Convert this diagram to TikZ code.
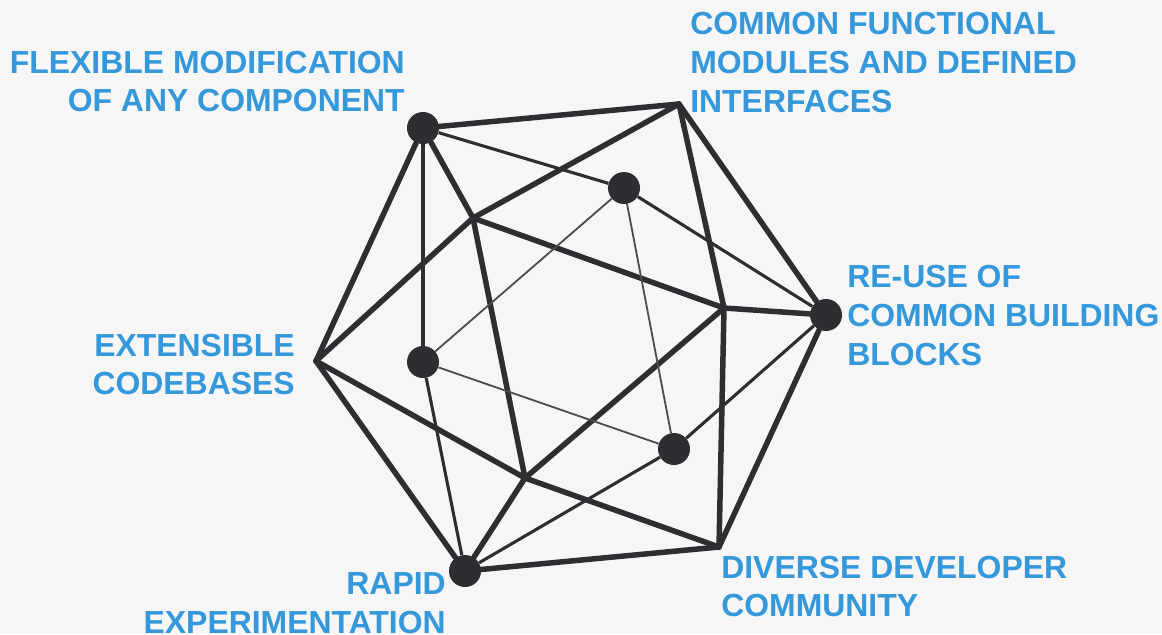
\documentclass[tikz,border=0pt]{standalone}
\usepackage{fontspec}
\setmainfont{Liberation Sans}
\usepackage{tikz}

\definecolor{bgcol}{HTML}{F6F6F6}
\definecolor{hubcol}{HTML}{2D2E32}
\definecolor{labelcol}{HTML}{3498DB}

\tikzset{
	hub/.style={circle,fill=hubcol,inner sep=0pt,minimum size=0.8cm},
	featurelabel/.style={text=labelcol,font=\fontsize{22.7}{27.5}\selectfont\bfseries,inner sep=0pt},
	heavy/.style={draw=hubcol,line width=3.9pt,line cap=round},
	medium/.style={draw=hubcol,line width=2.2pt},
	light/.style={draw=hubcol!85!white,line width=1.3pt}
}

\begin{document}
\begin{tikzpicture}[x=0.025cm,y=-0.025cm]
	\useasboundingbox[fill=bgcol] (0,0) rectangle (1162,634);

	\coordinate (top) at (679,104);
	\coordinate (left) at (316,361);
	\coordinate (bottomright) at (719,547);
	\coordinate (innerleft) at (473,218);
	\coordinate (innerright) at (724,308);
	\coordinate (innerbottom) at (525,478);

	\begin{scope}[every node/.style={hub}]
		\node (flexible) at (423,128) {};
		\node (reuse) at (826,315) {};
		\node (rapid) at (465,571) {};
		\node (backupper) at (624,188) {};
		\node (backleft) at (423,362) {};
		\node (backlower) at (674,449) {};
	\end{scope}

	\begin{scope}[every edge/.style={heavy}]
		\path [-] (flexible) edge (top);
		\path [-] (top) edge (reuse);
		\path [-] (reuse) edge (bottomright);
		\path [-] (bottomright) edge (rapid);
		\path [-] (rapid) edge (left);
		\path [-] (left) edge (flexible);
		\path [-] (innerleft) edge (flexible);
		\path [-] (innerleft) edge (top);
		\path [-] (innerleft) edge (left);
		\path [-] (innerleft) edge (innerright);
		\path [-] (innerleft) edge (innerbottom);
		\path [-] (innerright) edge (top);
		\path [-] (innerright) edge (reuse);
		\path [-] (innerright) edge (bottomright);
		\path [-] (innerright) edge (innerbottom);
		\path [-] (innerbottom) edge (left);
		\path [-] (innerbottom) edge (bottomright);
		\path [-] (innerbottom) edge (rapid);
	\end{scope}

	\begin{scope}[every edge/.style={medium}]
		\path [-] (flexible) edge (backupper);
		\path [-] (flexible) edge (backleft);
		\path [-] (backupper) edge (reuse);
		\path [-] (backlower) edge (reuse);
		\path [-] (backleft) edge (rapid);
		\path [-] (backlower) edge (rapid);
	\end{scope}

	\begin{scope}[every edge/.style={light}]
		\path [-] (backupper) edge (backleft);
		\path [-] (backupper) edge (backlower);
		\path [-] (backleft) edge (backlower);
	\end{scope}

	\begin{scope}[every node/.style={featurelabel}]
		\node [anchor=east,align=right] (modification) at (405,81.5) {FLEXIBLE MODIFICATION\\OF ANY COMPONENT};
		\node [anchor=west,align=left] (modules) at (690,62.5) {COMMON FUNCTIONAL\\MODULES AND DEFINED\\INTERFACES};
		\node [anchor=west,align=left] (blocks) at (847,315.5) {RE-USE OF\\COMMON BUILDING\\BLOCKS};
		\node [anchor=east,align=right] (codebases) at (295,364.5) {EXTENSIBLE\\CODEBASES};
		\node [anchor=east,align=right] (experimentation) at (446,603) {RAPID\\EXPERIMENTATION};
		\node [anchor=west,align=left] (community) at (721,586.5) {DIVERSE DEVELOPER\\COMMUNITY};
	\end{scope}
\end{tikzpicture}
\end{document}
